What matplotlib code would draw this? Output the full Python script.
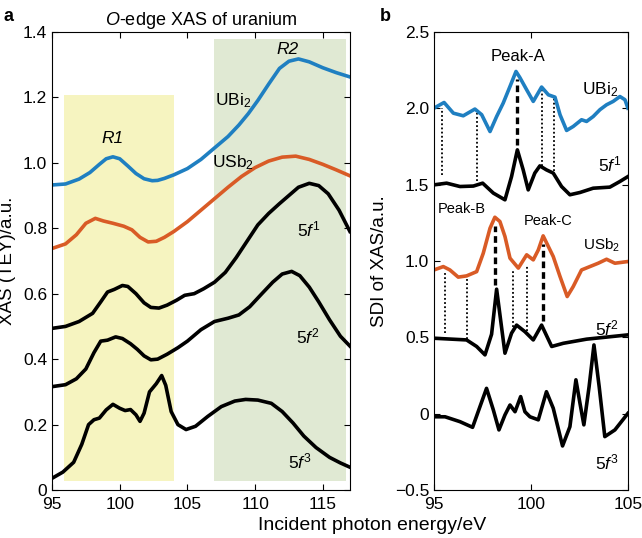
import matplotlib
matplotlib.use('Agg')
import matplotlib.pyplot as plt

plt.rcParams['font.family'] = ['Liberation Sans', 'DejaVu Sans']
plt.rcParams['mathtext.fontset'] = 'custom'
plt.rcParams['mathtext.rm'] = 'Liberation Sans'
plt.rcParams['mathtext.it'] = 'Liberation Sans:italic'
plt.rcParams['font.size'] = 12

BLUE = '#1f7fc1'
ORANGE = '#d95b26'

# ---- panel a: O-edge XAS ----
ubi2_x = [95, 96, 97, 97.8, 98.5, 99.0, 99.5, 100.0, 100.6, 101.2, 101.8, 102.4, 102.8, 103.3, 104, 105, 106, 107,
          108, 108.8, 109.5, 110.2, 111, 111.8, 112.5, 113.2, 114, 115, 116, 117]
ubi2_y = [0.932, 0.935, 0.95, 0.97, 0.995, 1.012, 1.018, 1.012, 0.99, 0.967, 0.951, 0.945, 0.946, 0.952, 0.963, 0.982,
          1.01, 1.045, 1.08, 1.115, 1.15, 1.19, 1.24, 1.288, 1.31, 1.317, 1.308, 1.29, 1.275, 1.262]

usb2_x = [95, 96, 96.8, 97.5, 98.2, 98.8, 99.5, 100.3, 100.9, 101.5, 102.1, 102.7, 103.3, 104, 105, 106, 107, 108,
          109, 110, 111, 112, 113, 114, 115, 116, 117]
usb2_y = [0.738, 0.752, 0.78, 0.815, 0.83, 0.822, 0.815, 0.806, 0.795, 0.772, 0.758, 0.76, 0.772, 0.79, 0.82, 0.855,
          0.89, 0.925, 0.958, 0.985, 1.005, 1.017, 1.02, 1.01, 0.995, 0.978, 0.96]

f1_x = [95, 96, 97, 98, 98.6, 99.1, 99.6, 100.2, 100.6, 101.2, 101.8, 102.3, 102.9, 103.5, 104.2, 104.8, 105.5, 106.2,
        107, 107.8, 108.6, 109.4, 110.2, 111, 111.8, 112.5, 113.2, 114, 114.7, 115.4, 116.2, 117]
f1_y = [0.494, 0.5, 0.515, 0.54, 0.575, 0.605, 0.613, 0.625, 0.622, 0.6, 0.572, 0.558, 0.556, 0.565, 0.58, 0.595, 0.6,
        0.615, 0.635, 0.665, 0.71, 0.76, 0.81, 0.845, 0.875, 0.9, 0.925, 0.937, 0.93, 0.905, 0.855, 0.79]

f2_x = [95, 96, 96.8, 97.5, 98.1, 98.6, 99.1, 99.7, 100.2, 100.8, 101.3, 101.8, 102.3, 102.8, 103.5, 104.3, 105, 106,
        107, 108, 108.8, 109.6, 110.5, 111.3, 112, 112.7, 113.3, 114, 114.7, 115.5, 116.3, 117]
f2_y = [0.316, 0.322, 0.34, 0.37, 0.42, 0.455, 0.458, 0.468, 0.463, 0.447, 0.43, 0.41, 0.398, 0.4, 0.415, 0.435, 0.455,
        0.49, 0.515, 0.525, 0.535, 0.56, 0.6, 0.635, 0.66, 0.668, 0.655, 0.62, 0.575, 0.52, 0.47, 0.44]

f3_x = [95, 95.8, 96.6, 97.2, 97.7, 98.1, 98.5, 99.0, 99.5, 100.0, 100.4, 100.8, 101.2, 101.5, 101.8, 102.2, 102.7,
        103.1, 103.4, 103.8, 104.3, 104.9, 105.6, 106.5, 107.5, 108.5, 109.3, 110.2, 111.2, 112, 112.8, 113.6, 114.5,
        115.5, 116.3, 117]
f3_y = [0.036, 0.055, 0.085, 0.14, 0.2, 0.215, 0.22, 0.245, 0.262, 0.25, 0.243, 0.246, 0.23, 0.21, 0.235, 0.3, 0.325,
        0.35, 0.32, 0.24, 0.2, 0.185, 0.195, 0.225, 0.255, 0.272, 0.277, 0.275, 0.265, 0.24, 0.205, 0.165, 0.13, 0.1,
        0.083, 0.07]

# ---- panel b: SDI of XAS ----
sdi_ubi2_x = [95, 95.52, 96.0, 96.51, 97.11, 97.46, 97.89, 98.23, 98.57, 98.92, 99.23, 99.43, 99.78, 100.12, 100.55,
              100.9, 101.24, 101.5, 101.84, 102.18, 102.61, 102.87, 103.21, 103.56, 103.9, 104.24, 104.59, 104.85, 105]
sdi_ubi2_y = [2.0, 2.037, 1.967, 1.95, 1.994, 1.957, 1.847, 1.945, 2.033, 2.142, 2.24, 2.2, 2.12, 2.044, 2.138,
              2.087, 2.072, 1.957, 1.854, 1.88, 1.924, 1.913, 1.945, 1.99, 2.022, 2.044, 2.076, 2.055, 2.0]

sdi_f1_x = [95, 95.65, 96.34, 97.03, 97.51, 98.06, 98.66, 99.0, 99.3, 99.6, 99.86, 100.2, 100.46, 100.8, 101.15,
            101.58, 102.01, 102.53, 103.21, 104.07, 104.59, 105]
sdi_f1_y = [1.498, 1.509, 1.487, 1.49, 1.509, 1.444, 1.40, 1.552, 1.727, 1.596, 1.465, 1.575, 1.622, 1.596, 1.575,
            1.487, 1.433, 1.448, 1.476, 1.483, 1.52, 1.552]

sdi_usb2_x = [95, 95.48, 95.82, 96.25, 96.68, 97.2, 97.54, 97.89, 98.14, 98.4, 98.66, 98.92, 99.35, 99.78, 100.12,
              100.38, 100.63, 100.9, 101.15, 101.5, 101.87, 102.18, 102.61, 103.04, 103.47, 103.9, 104.33, 105]
sdi_usb2_y = [0.941, 0.963, 0.941, 0.894, 0.902, 0.93, 1.05, 1.214, 1.286, 1.258, 1.16, 1.018, 0.953, 1.04, 1.007,
              1.072, 1.164, 1.094, 1.029, 0.898, 0.767, 0.832, 0.941, 0.963, 0.985, 1.011, 0.985, 0.996]

sdi_f2_x = [95, 96.68, 97.2, 97.63, 97.97, 98.23, 98.45, 98.66, 99.0, 99.26, 99.69, 100.12, 100.55, 101.07, 101.67,
            102.87, 105]
sdi_f2_y = [0.494, 0.483, 0.44, 0.385, 0.52, 0.815, 0.6, 0.396, 0.527, 0.58, 0.537, 0.483, 0.58, 0.44, 0.461, 0.488,
            0.516]

sdi_f3_x = [95, 95.57, 96.34, 96.99, 97.37, 97.71, 98.06, 98.35, 98.66, 98.92, 99.18, 99.47, 99.69, 99.95, 100.38,
            100.8, 101.15, 101.63, 102.01, 102.32, 102.53, 102.73, 103.0, 103.25, 103.52, 103.81, 104.33, 105]
sdi_f3_y = [-0.02, -0.02, -0.052, -0.089, 0.046, 0.166, 0.025, -0.106, -0.008, 0.057, 0.013, 0.112, 0.013, -0.02,
            -0.04, 0.144, 0.036, -0.211, -0.085, 0.222, 0.068, -0.073, 0.177, 0.45, 0.177, -0.15, -0.106, 0.002]

# guide lines: x, y bottom, y top
peak_lines = [(99.26, 1.76, 2.19), (98.14, 0.84, 1.23), (100.63, 0.61, 1.11)]
dot_lines = [(95.43, 1.56, 2.0), (97.23, 1.52, 1.97), (100.55, 1.62, 2.12), (101.19, 1.59, 2.07),
             (95.57, 0.53, 0.92), (96.72, 0.49, 0.89), (99.09, 0.57, 0.94), (99.78, 0.54, 0.97)]

fig = plt.figure(figsize=(6.42, 5.38), dpi=100)
ax1 = fig.add_axes([0.081, 0.089, 0.464, 0.852])
ax2 = fig.add_axes([0.676, 0.089, 0.302, 0.852])

# shaded regions
ax1.fill_between([95.9, 104.0], 0.028, 1.208, color='#f6f4c0', lw=0, zorder=0)
ax1.fill_between([107.0, 116.7], 0.028, 1.379, color='#e0e9d3', lw=0, zorder=0)

lw = 2.6
ax1.plot(ubi2_x, ubi2_y, color=BLUE, lw=lw, solid_joinstyle='round')
ax1.plot(usb2_x, usb2_y, color=ORANGE, lw=lw, solid_joinstyle='round')
for xs, ys in [(f1_x, f1_y), (f2_x, f2_y), (f3_x, f3_y)]:
    ax1.plot(xs, ys, color='black', lw=lw, solid_joinstyle='round')

lab = 12.5
ax1.text(99.5, 1.075, 'R1', style='italic', ha='center', va='center', fontsize=lab)
ax1.text(112.4, 1.345, 'R2', style='italic', ha='center', va='center', fontsize=lab)
ax1.text(108.4, 1.19, r'UBi$_2$', ha='center', va='center', fontsize=lab)
ax1.text(108.4, 1.0, r'USb$_2$', ha='center', va='center', fontsize=lab)
ax1.text(114.0, 0.795, r'5$f^1$', ha='center', va='center', fontsize=lab)
ax1.text(113.9, 0.469, r'5$f^2$', ha='center', va='center', fontsize=lab)
ax1.text(113.3, 0.087, r'5$f^3$', ha='center', va='center', fontsize=lab)

ax1.set_xlim(95, 117)
ax1.set_ylim(0, 1.4)
ax1.set_xticks([95, 100, 105, 110, 115])
ax1.set_yticks([0, 0.2, 0.4, 0.6, 0.8, 1.0, 1.2, 1.4])
ax1.set_yticklabels(['0', '0.2', '0.4', '0.6', '0.8', '1.0', '1.2', '1.4'])
ax1.set_ylabel('XAS (TEY)/a.u.', labelpad=5, fontsize=13.5)
ax1.set_title(r'$O$-edge XAS of uranium', fontsize=13, pad=5)

# panel b
for x, y0, y1 in peak_lines:
    ax2.plot([x, x], [y0, y1], color='black', lw=2.4, ls=(0, (2.0, 1.2)), zorder=1)
for x, y0, y1 in dot_lines:
    ax2.plot([x, x], [y0, y1], color='black', lw=1.3, ls=(0, (1, 1.3)), zorder=1)

ax2.plot(sdi_ubi2_x, sdi_ubi2_y, color=BLUE, lw=lw, solid_joinstyle='round', zorder=2)
ax2.plot(sdi_usb2_x, sdi_usb2_y, color=ORANGE, lw=lw, solid_joinstyle='round', zorder=2)
for xs, ys in [(sdi_f1_x, sdi_f1_y), (sdi_f2_x, sdi_f2_y), (sdi_f3_x, sdi_f3_y)]:
    ax2.plot(xs, ys, color='black', lw=lw, solid_joinstyle='round', zorder=2)

ax2.text(99.35, 2.34, 'Peak-A', ha='center', va='center', fontsize=12)
ax2.text(103.56, 2.12, r'UBi$_2$', ha='center', va='center', fontsize=lab)
ax2.text(104.07, 1.63, r'5$f^1$', ha='center', va='center', fontsize=lab)
ax2.text(96.43, 1.34, 'Peak-B', ha='center', va='center', fontsize=10.5)
ax2.text(100.9, 1.26, 'Peak-C', ha='center', va='center', fontsize=10.5)
ax2.text(103.64, 1.105, r'USb$_2$', ha='center', va='center', fontsize=11)
ax2.text(103.9, 0.56, r'5$f^2$', ha='center', va='center', fontsize=lab)
ax2.text(103.9, -0.32, r'5$f^3$', ha='center', va='center', fontsize=lab)

ax2.set_xlim(95, 105)
ax2.set_ylim(-0.5, 2.5)
ax2.set_xticks([95, 100, 105])
ax2.set_yticks([-0.5, 0, 0.5, 1.0, 1.5, 2.0, 2.5])
ax2.set_yticklabels(['\u22120.5', '0', '0.5', '1.0', '1.5', '2.0', '2.5'])
ax2.set_ylabel('SDI of XAS/a.u.', labelpad=5, fontsize=13.5)

for ax in (ax1, ax2):
    ax.tick_params(direction='in', top=True, right=True, length=4, width=0.8, labelsize=12.5)
    ax.tick_params(axis='x', pad=5)
    for s in ax.spines.values():
        s.set_linewidth(0.8)

fig.text(0.005, 0.985, 'a', fontweight='bold', fontsize=13, va='top')
fig.text(0.592, 0.985, 'b', fontweight='bold', fontsize=13, va='top')
fig.text(0.58, 0.024, 'Incident photon energy/eV', ha='center', va='center', fontsize=14)

fig.savefig('out.png', dpi=100)
